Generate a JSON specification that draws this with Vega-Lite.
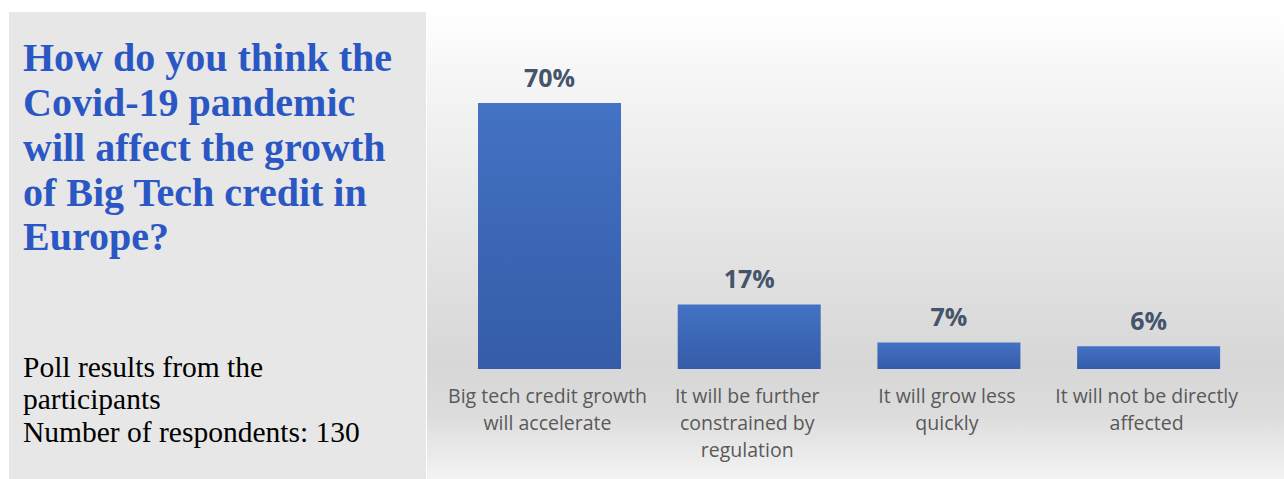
{
  "$schema": "https://vega.github.io/schema/vega-lite/v6.json",
  "background": "#ffffff",
  "padding": {"left": 9, "top": 12, "right": 0, "bottom": 0},
  "spacing": 1,
  "config": {"view": {"stroke": null}},
  "hconcat": [
    {
      "width": 417,
      "height": 467,
      "view": {"fill": "#e7e7e7", "stroke": null},
      "title": {
        "text": ["How do you think the", "Covid-19 pandemic", "will affect the growth", "of Big Tech credit in", "Europe?"],
        "subtitle": ["Poll results from the", "participants", "Number of respondents: 130"],
        "anchor": "start",
        "frame": "group",
        "orient": "top",
        "offset": -435,
        "dx": 14,
        "font": "Liberation Serif",
        "fontSize": 40,
        "fontWeight": "bold",
        "color": "#2b57c5",
        "lineHeight": 44.8,
        "subtitleFont": "Liberation Serif",
        "subtitleFontSize": 29.5,
        "subtitleFontWeight": "normal",
        "subtitleColor": "#000000",
        "subtitleLineHeight": 32.5,
        "subtitlePadding": 95
      },
      "data": {"values": [{"panel": "intro"}]},
      "mark": {"type": "rect", "opacity": 0},
      "encoding": {}
    },
    {
      "width": 857,
      "height": 467,
      "view": {
        "stroke": null,
        "fill": {
          "gradient": "linear",
          "x1": 0, "y1": 0, "x2": 0, "y2": 1,
          "stops": [
            {"offset": 0, "color": "#ffffff"},
            {"offset": 0.15, "color": "#f5f5f5"},
            {"offset": 0.49, "color": "#e4e4e4"},
            {"offset": 0.75, "color": "#d7d7d7"},
            {"offset": 0.86, "color": "#dcdcdc"},
            {"offset": 1, "color": "#f3f3f3"}
          ]
        }
      },
      "data": {
        "values": [
          {"cat": "Big tech credit growth\nwill accelerate", "value": 0.70},
          {"cat": "It will be further\nconstrained by\nregulation", "value": 0.17},
          {"cat": "It will grow less\nquickly", "value": 0.07},
          {"cat": "It will not be directly\naffected", "value": 0.06}
        ]
      },
      "encoding": {
        "x": {
          "field": "cat", "type": "nominal", "sort": null, "axis": null,
          "scale": {"paddingInner": 0.284, "paddingOuter": 0.2877, "align": 0.444}
        }
      },
      "layer": [
        {
          "mark": {
            "type": "bar",
            "color": {
              "gradient": "linear",
              "x1": 0, "y1": 0, "x2": 0, "y2": 1,
              "stops": [
                {"offset": 0, "color": "#4472c4"},
                {"offset": 1, "color": "#345ca8"}
              ]
            }
          },
          "encoding": {
            "y": {"field": "value", "type": "quantitative", "axis": null, "scale": {"domain": [-0.2895, 0.9395], "zero": false, "nice": false}},
            "y2": {"datum": 0}
          }
        },
        {
          "mark": {"type": "text", "font": "Open Sans", "fontSize": 25, "fontWeight": "bold", "color": "#44546a", "baseline": "alphabetic", "dy": -16},
          "encoding": {
            "y": {"field": "value", "type": "quantitative"},
            "text": {"field": "value", "type": "quantitative", "format": ".0%"}
          }
        },
        {
          "mark": {"type": "text", "font": "Open Sans", "fontSize": 19.5, "color": "#595959", "baseline": "alphabetic", "dy": 34, "dx": -2, "lineBreak": "\n", "lineHeight": 27},
          "encoding": {
            "y": {"datum": 0, "type": "quantitative"},
            "text": {"field": "cat", "type": "nominal"}
          }
        }
      ]
    }
  ]
}
